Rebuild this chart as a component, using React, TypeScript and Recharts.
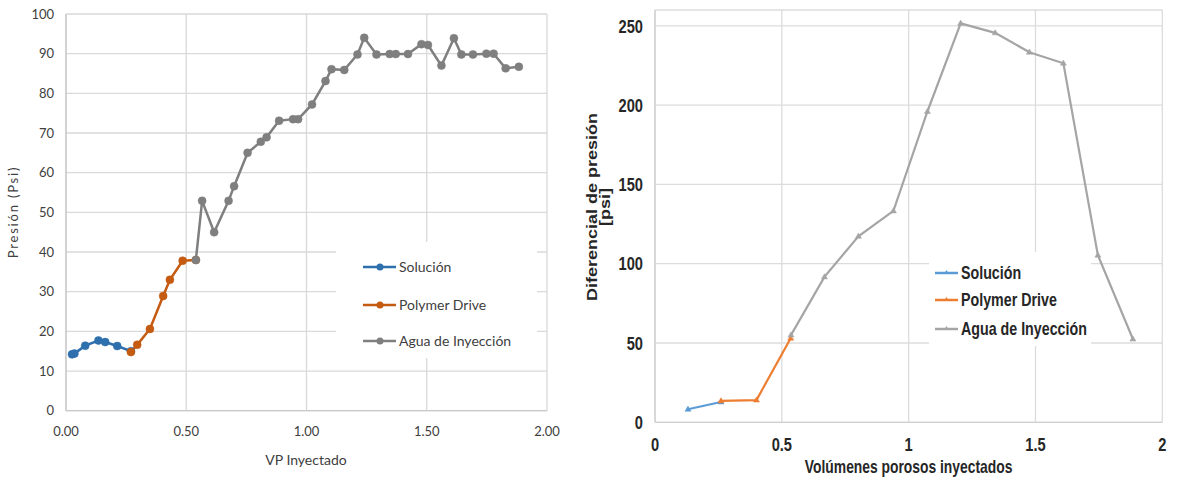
import React from 'react';
import { LineChart, Line, XAxis, YAxis, CartesianGrid, Legend, Label } from 'recharts';

// ---------- Left chart data (VP Inyectado vs Presión) ----------
const leftSolucion: [number, number][] = [
  [0.025, 14.2], [0.035, 14.4], [0.08, 16.4], [0.135, 17.7], [0.163, 17.3], [0.213, 16.3], [0.27, 15.0],
];
const leftPolymer: [number, number][] = [
  [0.27, 14.8], [0.296, 16.6], [0.349, 20.6], [0.404, 28.9], [0.432, 33.0], [0.485, 37.8], [0.54, 38.0],
];
const leftAgua: [number, number][] = [
  [0.54, 38.0], [0.566, 52.9], [0.616, 45.0], [0.676, 52.9], [0.699, 56.6], [0.755, 65.0], [0.81, 67.8],
  [0.834, 68.9], [0.886, 73.1], [0.944, 73.5], [0.965, 73.5], [1.023, 77.2], [1.079, 83.1], [1.104, 86.1],
  [1.157, 85.9], [1.212, 89.8], [1.24, 94.0], [1.291, 89.8], [1.346, 89.9], [1.371, 89.9], [1.422, 89.9],
  [1.478, 92.4], [1.505, 92.2], [1.561, 87.0], [1.613, 93.9], [1.644, 89.8], [1.692, 89.8], [1.748, 90.0],
  [1.778, 90.0], [1.828, 86.3], [1.883, 86.7],
];
const leftXTicks = [0, 0.5, 1, 1.5, 2];
const leftYTicks = [0, 10, 20, 30, 40, 50, 60, 70, 80, 90, 100];

// ---------- Right chart data (Volúmenes porosos vs Diferencial de presión) ----------
const rightSolucion: [number, number][] = [[0.13, 8.2], [0.26, 12.8]];
const rightPolymer: [number, number][] = [[0.26, 13.5], [0.40, 14.0], [0.535, 53.0]];
const rightAgua: [number, number][] = [
  [0.536, 55.0], [0.668, 91.7], [0.802, 117.3], [0.94, 133.3], [1.074, 196.0], [1.205, 251.6],
  [1.341, 245.6], [1.476, 233.4], [1.61, 226.4], [1.746, 105.4], [1.884, 52.5],
];
const rightXTicks = [0, 0.5, 1, 1.5, 2];
const rightYTicks = [0, 50, 100, 150, 200, 250];

const seriesNames = ['Solución', 'Polymer Drive', 'Agua de Inyección'];
const leftColors = ['#2e6fad', '#c55a11', '#7f7f7f'];
const rightColors = ['#5b9bd5', '#ed7d31', '#a5a5a5'];

const toRows = (pts: [number, number][]) => pts.map(([x, y]) => ({ x, y }));

const LEFT_FONT = "Lato, 'Open Sans', sans-serif";
const RIGHT_FONT = "'Liberation Sans', Arial, sans-serif";
const SQUEEZE = 0.77;

const orderPayload = (payload: any[]) =>
  [...(payload || [])].sort((a, b) => seriesNames.indexOf(a.value) - seriesNames.indexOf(b.value));

const renderLeftLegend = (props: any) => {
  const payload = orderPayload(props.payload);
  const tops = [24.7, 63, 99];
  return (
    <div style={{ width: 201, height: 116, background: '#fff', position: 'relative', fontFamily: LEFT_FONT, fontSize: 14, color: '#404040' }}>
      {payload.map((p: any, i: number) => (
        <div key={p.value} style={{ position: 'absolute', left: 27, top: tops[i] - 8, height: 16, display: 'flex', alignItems: 'center', whiteSpace: 'nowrap' }}>
          <svg width={33} height={10} style={{ display: 'block' }}>
            <line x1={0} y1={5} x2={33} y2={5} stroke={p.color} strokeWidth={2.5} />
            <circle cx={17} cy={5} r={3.5} fill={p.color} />
          </svg>
          <span style={{ marginLeft: 3, lineHeight: '16px' }}>{p.value}</span>
        </div>
      ))}
    </div>
  );
};

const renderRightLegend = (props: any) => {
  const payload = orderPayload(props.payload);
  const tops = [20.7, 48, 77.3];
  return (
    <div style={{ width: 162, height: 94, background: '#fff', position: 'relative', fontFamily: RIGHT_FONT, fontWeight: 700, fontSize: 18.5, color: '#262626' }}>
      {payload.map((p: any, i: number) => (
        <div key={p.value} style={{ position: 'absolute', left: 6, top: tops[i] - 11, height: 22, display: 'flex', alignItems: 'center', whiteSpace: 'nowrap' }}>
          <svg width={23} height={10} style={{ display: 'block' }}>
            <line x1={0} y1={5} x2={23} y2={5} stroke={p.color} strokeWidth={2.5} />
            <path d="M11.5,2 L14,6 L9,6 Z" fill={p.color} />
          </svg>
          <span style={{ marginLeft: 3, lineHeight: '22px', display: 'inline-block', transform: `scaleX(${SQUEEZE})`, transformOrigin: 'left center' }}>{p.value}</span>
        </div>
      ))}
    </div>
  );
};

const triDot = (color: string) => (props: any) => {
  const { cx, cy, index } = props;
  if (cx == null || cy == null) return <g key={`e-${index}`} />;
  return (
    <path key={`t-${index}`} d={`M${cx},${cy - 3.2} L${cx + 3},${cy + 2} L${cx - 3},${cy + 2} Z`} fill={color} stroke={color} strokeWidth={0.5} />
  );
};

const NarrowTick = (props: any) => {
  const { x, y, payload, textAnchor, axis } = props;
  const dy = axis === 'x' ? '0.71em' : '0.35em';
  return (
    <g transform={`translate(${x},${y}) scale(${SQUEEZE},1)`}>
      <text x={0} y={0} dy={dy} textAnchor={textAnchor} fontFamily={RIGHT_FONT} fontWeight={700} fontSize={19} fill="#262626">
        {String(payload.value)}
      </text>
    </g>
  );
};

const LeftChart = () => (
  <LineChart width={575} height={483} margin={{ top: 14, right: 28, left: 0, bottom: 42.3 }}>
    <CartesianGrid stroke="#d9d9d9" strokeWidth={1.3} />
    <XAxis
      type="number" dataKey="x" domain={[0, 2]} ticks={leftXTicks} height={30}
      tickFormatter={(v: number) => v.toFixed(2)} tickLine={false}
      axisLine={{ stroke: '#c8c8c8', strokeWidth: 1.3 }} tickMargin={10.5}
      tick={{ fontFamily: LEFT_FONT, fontSize: 13, fill: '#404040' }} interval={0}
    >
      <Label content={() => (
        <text x={306} y={465} textAnchor="middle" fontFamily={LEFT_FONT} fontSize={14} fill="#404040">VP Inyectado</text>
      )} />
    </XAxis>
    <YAxis
      type="number" domain={[0, 100]} ticks={leftYTicks} width={66} tickLine={false}
      axisLine={{ stroke: '#c8c8c8', strokeWidth: 1.3 }} tickMargin={6}
      tick={{ fontFamily: LEFT_FONT, fontSize: 13, fill: '#404040' }} interval={0}
    >
      <Label content={() => (
        <text x={17.5} y={212} transform="rotate(-90 17.5 212)" textAnchor="middle" fontFamily={LEFT_FONT} fontSize={13} letterSpacing={1.8} fill="#404040">Presión (Psi)</text>
      )} />
    </YAxis>
    <Line data={toRows(leftSolucion)} dataKey="y" name={seriesNames[0]} stroke={leftColors[0]} strokeWidth={2.5}
      dot={{ r: 4, fill: leftColors[0], stroke: leftColors[0], strokeWidth: 0.5 }} isAnimationActive={false} />
    <Line data={toRows(leftPolymer)} dataKey="y" name={seriesNames[1]} stroke={leftColors[1]} strokeWidth={2.5}
      dot={{ r: 4, fill: leftColors[1], stroke: leftColors[1], strokeWidth: 0.5 }} isAnimationActive={false} />
    <Line data={toRows(leftAgua)} dataKey="y" name={seriesNames[2]} stroke={leftColors[2]} strokeWidth={2.5}
      dot={{ r: 4, fill: leftColors[2], stroke: leftColors[2], strokeWidth: 0.5 }} isAnimationActive={false} />
    <Legend layout="vertical" align="center" verticalAlign="middle"
      wrapperStyle={{ left: 336, top: 242, width: 201, height: 116 }} content={renderLeftLegend} />
  </LineChart>
);

const RightChart = () => (
  <LineChart width={602} height={483} margin={{ top: 10, right: 14.7, left: 0, bottom: 30.7 }}>
    <CartesianGrid stroke="#dcdcdc" strokeWidth={1.3} />
    <XAxis
      type="number" dataKey="x" domain={[0, 2]} ticks={rightXTicks} height={30} tickLine={false}
      axisLine={{ stroke: '#d0d0d0', strokeWidth: 1.3 }} tickMargin={9.5}
      tick={(p: any) => <NarrowTick {...p} axis="x" />} interval={0}
    >
      <Label content={() => (
        <g transform={`translate(333.6,473) scale(${SQUEEZE},1)`}>
          <text x={0} y={0} textAnchor="middle" fontFamily={RIGHT_FONT} fontWeight={700} fontSize={18} fill="#262626">Volúmenes porosos inyectados</text>
        </g>
      )} />
    </XAxis>
    <YAxis
      type="number" domain={[0, 260]} ticks={rightYTicks} width={80} tickLine={false}
      axisLine={{ stroke: '#d0d0d0', strokeWidth: 1.3 }} tickMargin={6}
      tick={(p: any) => <NarrowTick {...p} axis="y" />} interval={0}
    >
      <Label content={() => (
        <g transform={`translate(22,207) scale(${SQUEEZE},1) rotate(-90)`}>
          <text x={0} y={0} textAnchor="middle" fontFamily={RIGHT_FONT} fontWeight={700} fontSize={18} fill="#262626">
            <tspan x={0} dy={0}>Diferencial de presión</tspan>
            <tspan x={0} dy={17}>[psi]</tspan>
          </text>
        </g>
      )} />
    </YAxis>
    <Line data={toRows(rightSolucion)} dataKey="y" name={seriesNames[0]} stroke={rightColors[0]} strokeWidth={2.2}
      dot={triDot(rightColors[0])} isAnimationActive={false} />
    <Line data={toRows(rightPolymer)} dataKey="y" name={seriesNames[1]} stroke={rightColors[1]} strokeWidth={2.2}
      dot={triDot(rightColors[1])} isAnimationActive={false} />
    <Line data={toRows(rightAgua)} dataKey="y" name={seriesNames[2]} stroke={rightColors[2]} strokeWidth={2.2}
      dot={triDot(rightColors[2])} isAnimationActive={false} />
    <Legend layout="vertical" align="center" verticalAlign="middle"
      wrapperStyle={{ left: 354, top: 252, width: 162, height: 94 }} content={renderRightLegend} />
  </LineChart>
);

export default function App() {
  return (
    <div style={{ position: 'absolute', left: 0, top: 0, width: 1177, height: 483, background: '#fff', overflow: 'hidden' }}>
      <div style={{ position: 'absolute', left: 0, top: 0 }}>
        <LeftChart />
      </div>
      <div style={{ position: 'absolute', left: 575, top: 0 }}>
        <RightChart />
      </div>
    </div>
  );
}
